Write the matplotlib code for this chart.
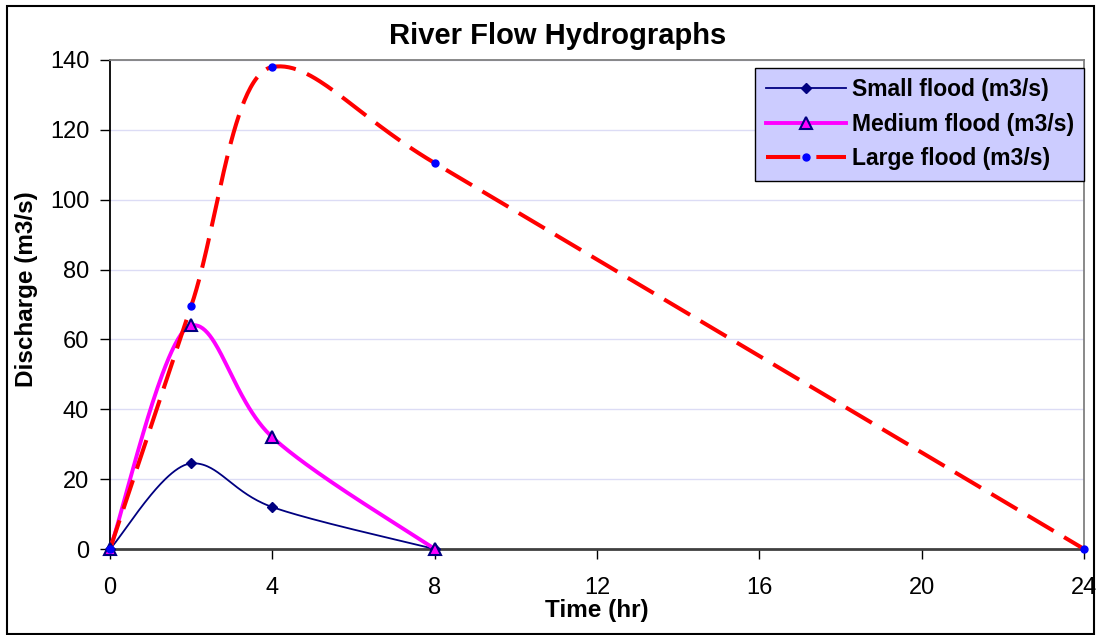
import numpy as np
import matplotlib.pyplot as plt
from matplotlib.patches import Rectangle

# Hydrograph readings (time in hours, discharge in m3/s)
small_t = [0, 2, 4, 8]
small_q = [0, 24.5, 12, 0]
medium_t = [0, 2, 4, 8]
medium_q = [0, 64, 32, 0]
large_t = [0, 2, 4, 8, 24]
large_q = [0, 69.5, 138, 110.5, 0]

x_ticks = [0, 4, 8, 12, 16, 20, 24]
y_ticks = [0, 20, 40, 60, 80, 100, 120, 140]

W, H = 1096, 635
AX_L, AX_R, AX_T, AX_B = 110, 1084, 60, 549
XMAX, YMAX = 24, 140


def smooth(xs, ys, n=60):
    # spreadsheet-style smoothed line: Bezier pieces with control arms worked
    # out in screen pixels, capped at half the segment length and kept
    # nearly level at peaks and troughs
    sx = (AX_R - AX_L) / XMAX
    sy = (AX_B - AX_T) / YMAX
    p = np.column_stack([np.asarray(xs) * sx, np.asarray(ys) * sy]).astype(float)
    k = len(p)
    tang = []
    for i in range(k):
        a = p[max(i - 1, 0)]
        b = p[min(i + 1, k - 1)]
        t = (b - a) / 6
        if 0 < i < k - 1 and (p[i, 1] - a[1]) * (b[1] - p[i, 1]) < 0:
            t[1] *= 0.3
        tang.append(t)
    out = [p[0]]
    for i in range(k - 1):
        p1, p2 = p[i], p[i + 1]
        half = np.hypot(*(p2 - p1)) / 2
        a1, a2 = tang[i].copy(), tang[i + 1].copy()
        for arm in (a1, a2):
            ln = np.hypot(*arm)
            if ln > half:
                arm *= half / ln
        c1 = p1 + a1
        c2 = p2 - a2
        t = np.linspace(0, 1, n)[1:, None]
        seg = ((1 - t) ** 3 * p1 + 3 * (1 - t) ** 2 * t * c1
               + 3 * (1 - t) * t ** 2 * c2 + t ** 3 * p2)
        out.extend(seg)
    out = np.array(out)
    return out[:, 0] / sx, out[:, 1] / sy


plt.rcParams['font.family'] = ['Liberation Sans', 'DejaVu Sans']

fig = plt.figure(figsize=(W / 100, H / 100), dpi=100)
ax = fig.add_axes([AX_L / W, 1 - AX_B / H, (AX_R - AX_L) / W, (AX_B - AX_T) / H])

red_dash = (7.5, 3.0)

# curves
sx, sy = smooth(small_t, small_q)
ax.plot(sx, sy, color='#000080', lw=1.3, zorder=3)
mx, my = smooth(medium_t, medium_q)
ax.plot(mx, my, color='#FF00FF', lw=2.8, zorder=3)
lx, ly = smooth(large_t, large_q)
ax.plot(lx, ly, color='#FF0000', lw=2.9, dashes=red_dash, zorder=4)

# markers
ax.plot(small_t, small_q, ls='none', marker='D', ms=5, color='#000080',
        clip_on=False, zorder=5)
ax.plot(medium_t, medium_q, ls='none', marker='^', ms=9, mfc='#FF00FF',
        mec='#000080', mew=1.5, clip_on=False, zorder=5)
ax.plot(large_t, large_q, ls='none', marker='o', ms=5, color='#0000FF',
        clip_on=False, zorder=6)

# legend handles
h1, = ax.plot([], [], color='#000080', lw=1.3, marker='D', ms=5)
h2, = ax.plot([], [], color='#FF00FF', lw=2.8, marker='^', ms=9,
              mfc='#FF00FF', mec='#000080', mew=1.5)
h3, = ax.plot([], [], color='#FF0000', lw=2.9, dashes=(8.5, 4.0),
              marker='o', ms=5, mfc='#0000FF', mec='#0000FF')
leg = ax.legend([h1, h2, h3],
                ['Small flood (m3/s)', 'Medium flood (m3/s)', 'Large flood (m3/s)'],
                loc='upper right', bbox_to_anchor=(1.0, (AX_B - 68) / (AX_B - AX_T)),
                borderaxespad=0, fancybox=False, framealpha=1,
                facecolor='#CCCCFF', edgecolor='black', numpoints=1,
                handlelength=3.5, handletextpad=0.25, labelspacing=0.5,
                borderpad=0.45, prop={'weight': 'bold', 'size': 16.5})
leg.get_frame().set_linewidth(1.0)
leg.set_zorder(10)

ax.set_xlim(0, XMAX)
ax.set_ylim(0, YMAX)
ax.set_xticks(x_ticks)
ax.set_yticks(y_ticks)
ax.tick_params(labelsize=17, length=7, width=1, direction='out')
ax.tick_params(axis='x', pad=13)
ax.tick_params(axis='y', pad=8)
ax.grid(axis='y', color='#DCDCF5', lw=1)
ax.set_axisbelow(True)

for side in ('top', 'right'):
    ax.spines[side].set_color('#808080')
    ax.spines[side].set_linewidth(1.3)
ax.spines['left'].set_color('black')
ax.spines['bottom'].set_color('#404040')
ax.spines['left'].set_linewidth(1.3)
ax.spines['bottom'].set_linewidth(2)

fig.text(558 / W, 1 - 36 / H, 'River Flow Hydrographs', fontsize=21,
         fontweight='bold', ha='center', va='center')
ax.set_xlabel('Time (hr)', fontsize=17.5, fontweight='bold')
ax.set_ylabel('Discharge (m3/s)', fontsize=17.5, fontweight='bold')
ax.xaxis.set_label_coords((597 - AX_L) / (AX_R - AX_L), -(611 - AX_B) / (AX_B - AX_T))
ax.yaxis.set_label_coords(-(AX_L - 27) / (AX_R - AX_L), (AX_B - 289) / (AX_B - AX_T))
ax.xaxis.label.set_va('center')
ax.yaxis.label.set_va('center')

# outer chart border
fig.patches.append(Rectangle((7 / W, 1 / H), 1087 / W, 628 / H,
                             transform=fig.transFigure, fill=False,
                             edgecolor='black', lw=1.5))

fig.savefig('out.png', dpi=100)
